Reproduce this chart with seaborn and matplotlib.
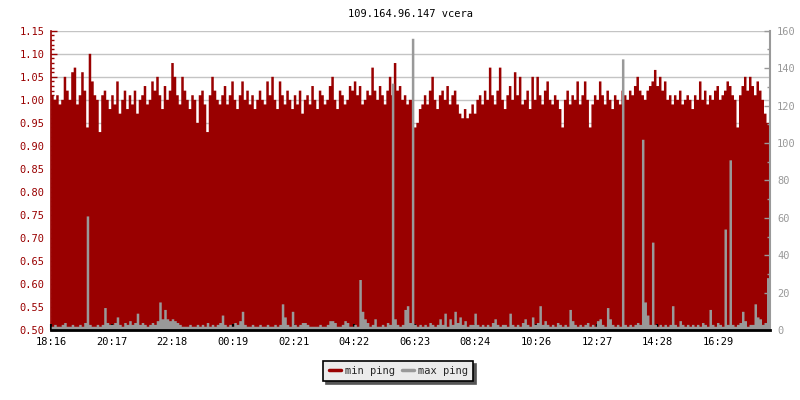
import numpy as np
import pandas as pd
import matplotlib
matplotlib.use("Agg")
import matplotlib.pyplot as plt
from matplotlib.lines import Line2D
from matplotlib.ticker import MultipleLocator, FormatStrFormatter
import seaborn as sns

title = "109.164.96.147 vcera"

# 5-minute samples from 18:16, min ping (left axis) and max ping (right axis)
min_ping = [
    1.01, 1.00, 1.01, 0.99, 1.00, 1.05, 1.02, 1.00, 1.06, 1.07, 0.99, 1.01, 1.06, 1.02, 0.94, 1.10, 1.04, 1.01, 1.00, 0.93, 1.01, 1.02, 1.00, 0.98,
    1.01, 0.99, 1.04, 0.97, 1.00, 1.02, 0.98, 1.01, 0.99, 1.02, 0.97, 1.00, 1.01, 1.03, 0.99, 1.00, 1.04, 1.02, 1.05, 1.01, 0.98, 1.03, 1.00, 1.02,
    1.08, 1.05, 1.01, 0.99, 1.05, 1.02, 1.00, 0.98, 1.01, 1.00, 0.95, 1.01, 1.02, 0.99, 0.93, 1.01, 1.05, 1.02, 1.00, 0.99, 1.01, 1.03, 0.99, 1.01,
    1.04, 1.00, 0.98, 1.01, 1.04, 1.00, 1.02, 0.99, 1.01, 0.98, 1.00, 1.02, 1.00, 0.99, 1.04, 1.01, 1.05, 1.00, 0.98, 1.04, 1.01, 0.99, 1.02, 1.00,
    0.98, 1.01, 0.99, 1.02, 0.97, 1.00, 1.01, 0.99, 1.03, 1.00, 0.98, 1.02, 1.01, 0.99, 1.00, 1.03, 1.05, 1.00, 0.98, 1.02, 1.01, 0.99, 1.00, 1.03,
    1.02, 1.04, 1.01, 1.03, 0.99, 1.00, 1.02, 1.01, 1.07, 1.02, 1.00, 1.03, 1.01, 0.99, 1.02, 1.05, 1.01, 1.08, 1.02, 1.03, 1.00, 1.01, 0.99, 1.00,
    1.00, 0.94, 0.95, 0.98, 0.99, 1.01, 0.99, 1.02, 1.05, 1.00, 0.98, 1.01, 1.02, 1.00, 1.03, 0.99, 1.01, 1.02, 0.99, 0.97, 0.96, 0.98, 0.96, 0.97,
    0.99, 0.97, 1.00, 1.01, 0.99, 1.02, 1.00, 1.07, 1.01, 0.99, 1.02, 1.07, 1.00, 0.98, 1.01, 1.03, 1.00, 1.06, 1.01, 1.05, 0.99, 1.00, 1.02, 0.98,
    1.05, 1.00, 1.05, 1.01, 0.99, 1.02, 1.04, 1.00, 0.99, 1.01, 1.00, 0.98, 0.94, 1.00, 1.02, 0.99, 1.01, 1.00, 1.04, 0.99, 1.01, 1.04, 1.00, 0.94,
    0.99, 1.01, 1.00, 1.04, 1.01, 0.99, 1.02, 1.00, 0.98, 1.01, 1.00, 0.99, 1.02, 1.01, 1.00, 1.02, 1.01, 1.03, 1.05, 1.02, 1.01, 1.00, 1.02, 1.03,
    1.04, 1.065, 1.03, 1.05, 1.02, 1.04, 1.00, 1.01, 0.99, 1.01, 1.00, 1.02, 0.99, 1.00, 1.01, 1.00, 0.98, 1.01, 1.00, 1.04, 1.00, 1.02, 0.99, 1.01,
    1.00, 1.02, 1.03, 1.00, 1.01, 1.02, 1.04, 1.03, 1.01, 1.00, 0.94, 1.01, 1.03, 1.05, 1.02, 1.05, 1.03, 1.01, 1.04, 1.02, 1.00, 0.97, 0.95, 0.96,
]
max_ping = [
    2, 3, 2, 2, 3, 4, 2, 2, 3, 2, 2, 3, 2, 4, 61, 3, 2, 2, 3, 2, 3, 12, 4, 3,
    3, 4, 7, 3, 2, 4, 3, 5, 3, 4, 9, 3, 4, 3, 2, 3, 4, 3, 5, 15, 6, 11, 6, 5,
    6, 5, 4, 3, 2, 2, 2, 3, 2, 2, 3, 2, 3, 2, 4, 2, 3, 2, 3, 4, 8, 3, 2, 3,
    2, 4, 3, 5, 10, 3, 2, 2, 3, 2, 2, 3, 2, 2, 3, 2, 2, 3, 2, 3, 14, 7, 3, 2,
    10, 3, 2, 3, 4, 4, 3, 2, 2, 2, 2, 3, 2, 2, 3, 5, 5, 4, 2, 2, 3, 5, 4, 2,
    2, 3, 2, 27, 10, 6, 4, 2, 3, 6, 2, 2, 3, 2, 4, 3, 132, 6, 3, 2, 3, 11, 13, 4,
    156, 3, 2, 3, 2, 3, 2, 4, 3, 2, 3, 6, 3, 9, 2, 6, 3, 10, 4, 7, 3, 5, 2, 3,
    3, 9, 3, 2, 3, 2, 3, 2, 4, 6, 3, 2, 3, 3, 2, 9, 3, 2, 3, 2, 4, 6, 3, 2,
    7, 3, 4, 13, 3, 5, 3, 2, 3, 2, 4, 3, 2, 3, 2, 11, 5, 3, 2, 3, 2, 3, 4, 2,
    3, 2, 5, 6, 3, 2, 12, 6, 3, 2, 3, 2, 145, 3, 2, 3, 2, 3, 4, 3, 102, 15, 8, 3,
    47, 3, 2, 3, 2, 3, 2, 3, 13, 3, 2, 5, 3, 2, 3, 2, 3, 2, 3, 2, 4, 3, 2, 11,
    3, 2, 4, 3, 2, 54, 3, 91, 3, 2, 3, 4, 10, 5, 2, 3, 3, 14, 7, 6, 3, 4, 28, 15,
]
minutes = np.arange(len(min_ping)) * 5 + 2.5  # bin centres, minutes after 18:16

tick_minutes = [0, 121, 242, 363, 485, 606, 727, 848, 970, 1091, 1212, 1333]
tick_labels = ["18:16", "20:17", "22:18", "00:19", "02:21", "04:22",
               "06:23", "08:24", "10:26", "12:27", "14:28", "16:29"]

df = pd.DataFrame({"t": minutes, "min_ping": min_ping, "max_ping": max_ping})

red = "#990000"
grey = "#999999"

sns.set_theme(style="white")
plt.rcParams["font.family"] = "DejaVu Sans Mono"
fs = 7.5

fig, ax = plt.subplots(figsize=(8, 4), dpi=100)
fig.subplots_adjust(left=0.064, right=0.9625, bottom=0.175, top=0.923)

sns.histplot(data=df, x="t", weights="min_ping", binwidth=5, binrange=(0, 1440),
             element="step", fill=True, color=red, alpha=1, linewidth=0, ax=ax)
ax.set_ylim(0.5, 1.15)
ax.set_xlim(0, 1437)
ax.set_axisbelow(True)
ax.yaxis.grid(True, color="#c4c4c4", linewidth=1)
ax.xaxis.grid(False)
ax.yaxis.set_major_locator(MultipleLocator(0.05))
ax.yaxis.set_minor_locator(MultipleLocator(0.01))
ax.yaxis.set_major_formatter(FormatStrFormatter("%.2f"))
ax.tick_params(axis="y", which="both", direction="in", colors=red, labelsize=fs, pad=5, left=True)
ax.tick_params(axis="y", which="major", length=4, width=1)
ax.tick_params(axis="y", which="minor", length=2.5, width=1)
ax.tick_params(axis="x", bottom=False, labelbottom=False)
ax.set_xlabel("")
ax.set_ylabel("")
for s in ["top", "right", "bottom"]:
    ax.spines[s].set_visible(False)
ax.spines["left"].set_color(red)
ax.spines["left"].set_linewidth(1.2)
ax.set_title(title, fontsize=fs, color="black", pad=10)

ax2 = ax.twinx()
sns.histplot(data=df, x="t", weights="max_ping", binwidth=5, binrange=(0, 1440),
             element="step", fill=True, color=grey, alpha=1, linewidth=0, ax=ax2)
ax2.set_ylim(0, 160)
ax2.set_xlim(0, 1437)
ax2.set_ylabel("")
ax2.set_xlabel("")
ax2.grid(False)
ax2.yaxis.set_major_locator(MultipleLocator(20))
ax2.yaxis.set_minor_locator(MultipleLocator(10))
ax2.tick_params(axis="y", which="both", direction="in", colors=grey, labelsize=fs, pad=5, right=True)
ax2.tick_params(axis="y", which="major", length=4, width=1)
ax2.tick_params(axis="y", which="minor", length=2.5, width=1)
ax2.xaxis.set_visible(True)
ax2.set_xticks(tick_minutes, tick_labels)
ax2.tick_params(axis="x", direction="in", length=4, width=1.5, color="black",
                labelsize=fs, labelcolor="black", pad=5, bottom=True, labelbottom=True)
for s in ["top", "left"]:
    ax2.spines[s].set_visible(False)
ax2.spines["right"].set_color(grey)
ax2.spines["right"].set_linewidth(1.5)
ax2.spines["bottom"].set_visible(True)
ax2.spines["bottom"].set_color("black")
ax2.spines["bottom"].set_linewidth(2)

handles = [Line2D([], [], color=red, linewidth=2.5),
           Line2D([], [], color=grey, linewidth=2.5)]
leg = fig.legend(handles, ["min ping", "max ping"], loc="center", bbox_to_anchor=(0.498, 0.0725),
                 ncol=2, fontsize=fs, frameon=True, fancybox=False,
                 shadow={"color": "#555555", "alpha": 1},
                 handlelength=1.2, handletextpad=0.4, columnspacing=0.6,
                 borderpad=0.5, borderaxespad=0)
leg.get_frame().set_facecolor("#ebebeb")
leg.get_frame().set_edgecolor("black")
leg.get_frame().set_linewidth(1.2)
leg.get_frame().set_alpha(1)

fig.savefig("out.png", dpi=100)
